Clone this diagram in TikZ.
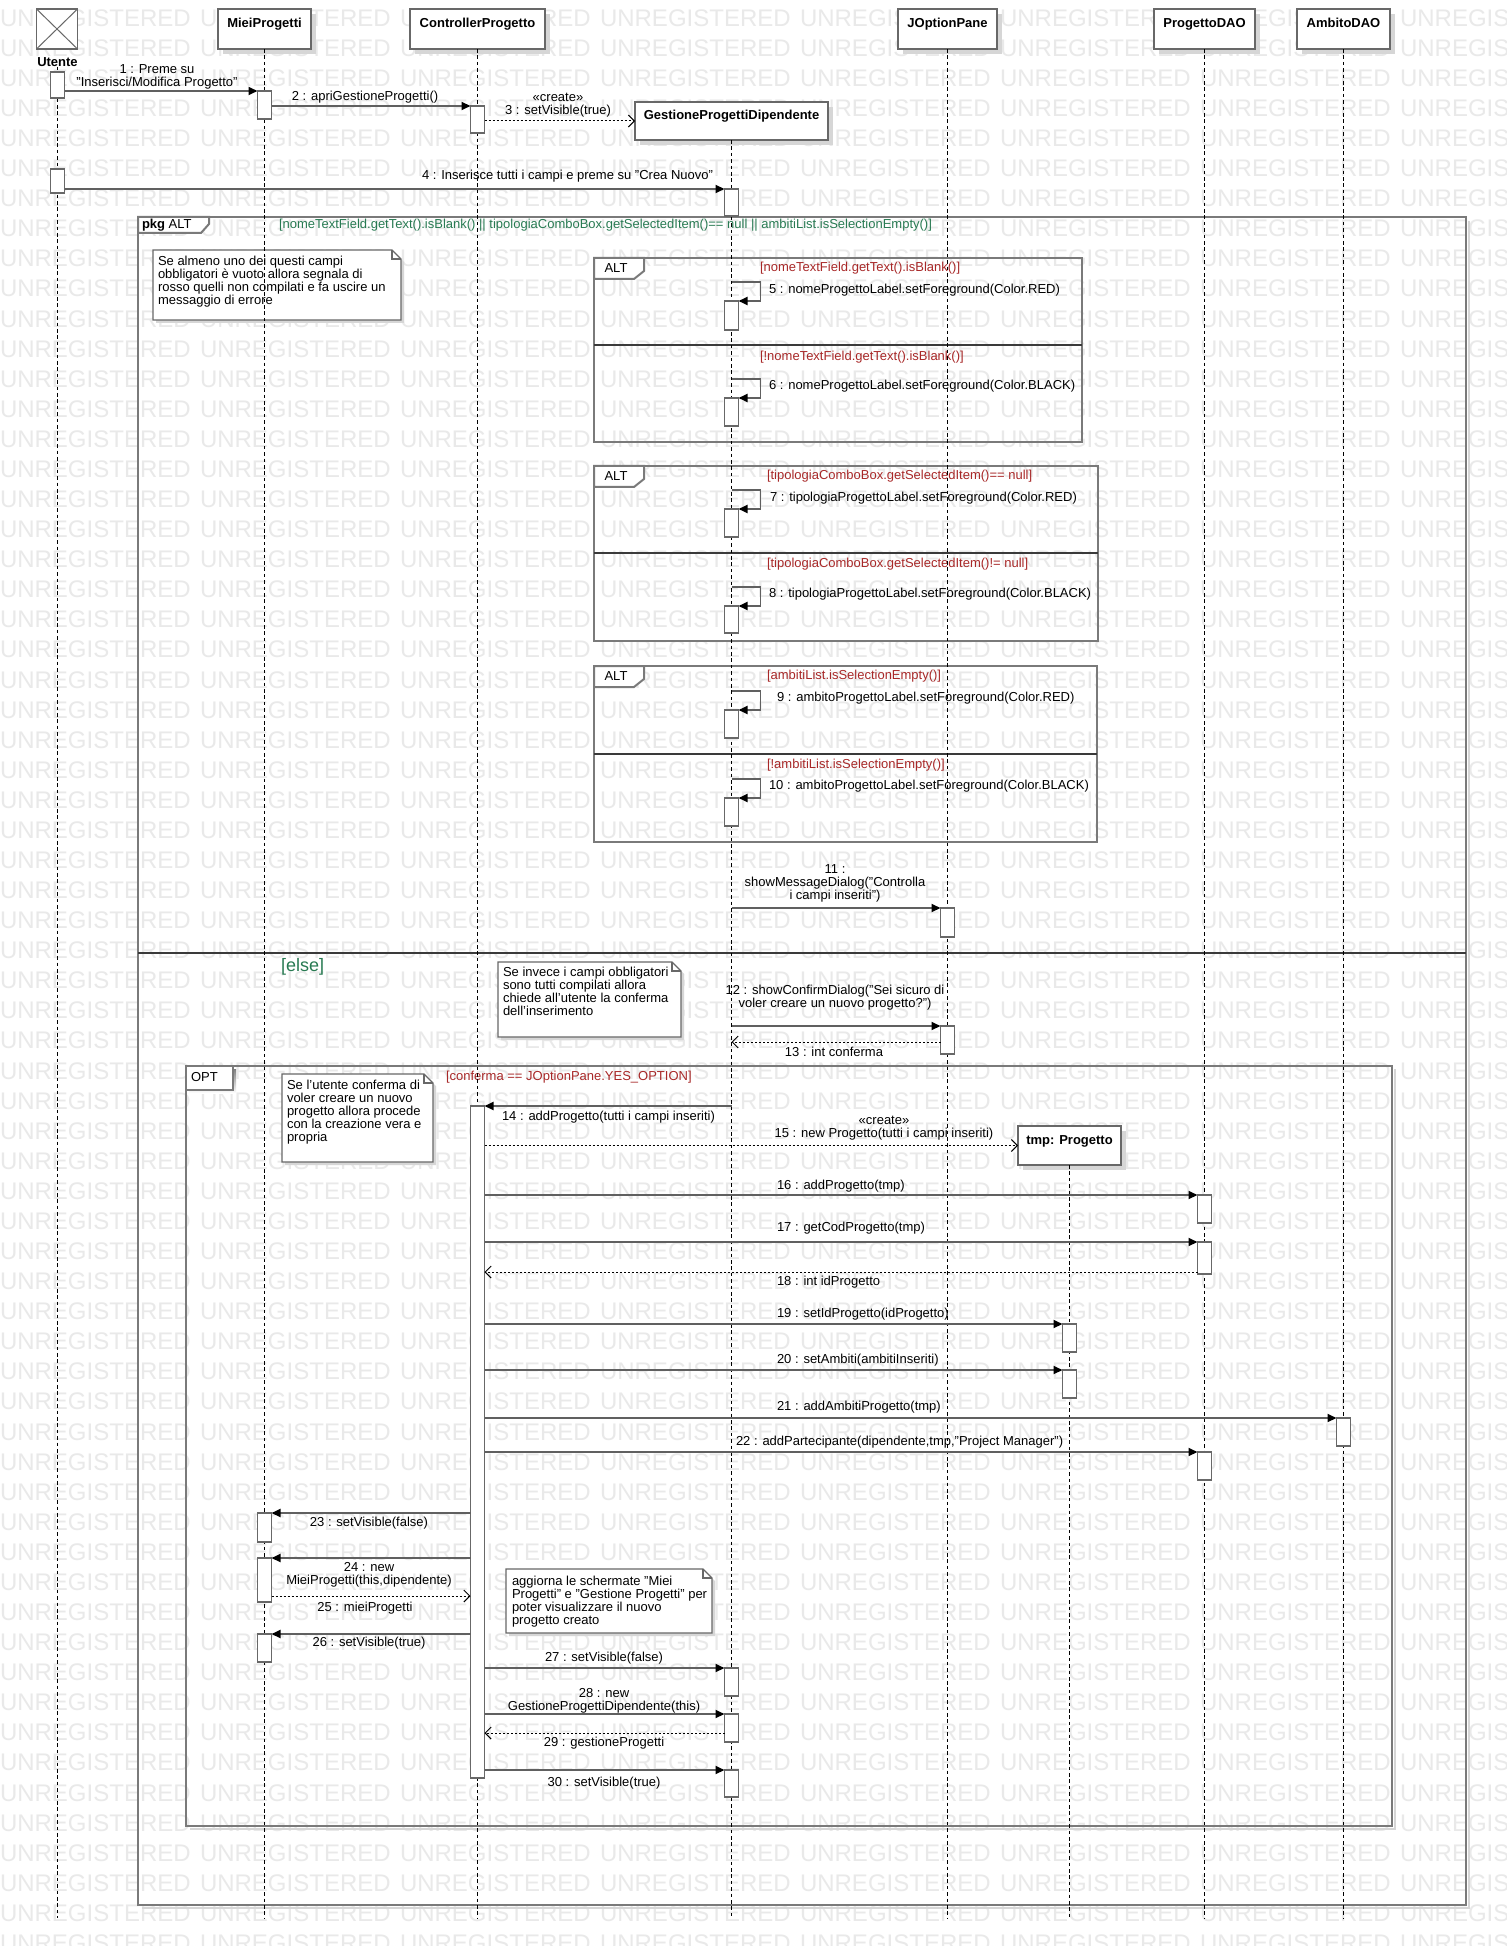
\documentclass[tikz,border=0pt]{standalone}
\usepackage{fontspec}
\setmainfont{Liberation Sans}
\usetikzlibrary{arrows.meta,shadows}

\definecolor{wmgray}{RGB}{233,233,233}
\definecolor{framegray}{RGB}{122,122,122}
\definecolor{sepdark}{RGB}{58,58,58}
\definecolor{boxgray}{RGB}{104,104,104}
\definecolor{msggray}{RGB}{96,96,96}
\definecolor{guardgreen}{RGB}{40,122,82}
\definecolor{guardred}{RGB}{168,40,40}
\definecolor{shade}{RGB}{214,214,214}

\newcommand{\sqfont}{\fontsize{6.5pt}{6.5pt}\selectfont}
\newcommand{\wmfont}{\fontsize{12pt}{12pt}\selectfont}
\newcommand{\elsefont}{\fontsize{9pt}{9pt}\selectfont}

% note with folded corner: x1, y1, x2, y2
\newcommand{\notebg}[4]{%
  \fill[noteshadow] ({#1+3},{#2+3}) -- ({#3-6},{#2+3}) -- ({#3+3},{#2+12}) -- ({#3+3},{#4+3}) -- ({#1+3},{#4+3}) -- cycle;
  \filldraw[notebox] (#1,#2) -- ({#3-9},#2) -- (#3,{#2+9}) -- (#3,#4) -- (#1,#4) -- cycle;
  \draw[notebox, fill=none] ({#3-9},#2) -- ({#3-9},{#2+9}) -- (#3,{#2+9});}

\begin{document}
\begin{tikzpicture}[x=0.5pt, y=-0.5pt,
  every node/.style={inner sep=0pt, outer sep=0pt},
  txt/.style={font=\sqfont, text=black},
  wm/.style={font=\wmfont, text=wmgray, anchor=west},
  headbox/.style={draw=boxgray, fill=white, line width=0.75pt, font=\sqfont\bfseries,
    text height=9.3pt, text depth=10.7pt, anchor=north,
    drop shadow={shadow xshift=2.5pt, shadow yshift=-2.5pt, fill=shade, opacity=1}},
  actbox/.style={draw=boxgray, fill=white, line width=0.75pt, minimum width=7pt, anchor=north},
  lifeline/.style={draw=black, line width=0.45pt, dash pattern=on 1.8pt off 1.4pt},
  msg/.style={draw=msggray, line width=0.9pt, -{Triangle[length=4.5pt, width=4pt, color=black]}},
  ret/.style={draw=black, line width=0.5pt, dash pattern=on 1pt off 1pt,
    -{Straight Barb[length=3pt, width=6pt, color=black]}},
  frame/.style={draw=framegray, line width=1pt},
  framesh/.style={draw=shade, line width=1.2pt},
  sepline/.style={draw=sepdark, line width=1.3pt},
  notebox/.style={draw=boxgray, fill=white, line width=0.6pt},
  noteshadow/.style={fill=shade},
  notetext/.style={font=\sqfont, text=black, anchor=north west, align=left},
  guardg/.style={font=\sqfont, text=guardgreen, anchor=west},
  guardr/.style={font=\sqfont, text=guardred, anchor=west},
]
\useasboundingbox (0,0) rectangle (1506,1946);
\fill[white] (0,0) rectangle (1506,1946);

% tiled background lettering
\begin{scope}
  \clip (0,0) rectangle (1506,1946);
  \foreach \r in {0,...,64}{
    \foreach \c in {0,...,7}{
      \node[wm] (wm-\r-\c) at (\c*200, 18+\r*30.08) {UNREGISTERED};
    }
  }
\end{scope}

% ---------- combined fragments ----------
\draw[framesh] (1469,221) -- (1469,1908) -- (142,1908);
\draw[frame] (138,217) rectangle (1466,1905);
\filldraw[frame, fill=white] (138,217) -- (209,217) -- (209,224) -- (201,233) -- (138,233) -- cycle;
\node[txt, anchor=west] (tPkg) at (142,225) {\textbf{pkg} ALT};
\node[guardg] (gAll) at (279,225) {[nomeTextField.getText().isBlank() || tipologiaComboBox.getSelectedItem()== null || ambitiList.isSelectionEmpty()]};
\draw[sepline] (138,953) -- (1466,953);
\node[guardg, font=\elsefont] (gElse) at (281,967) {[else]};

% alt on the project name
\draw[frame] (594,258) rectangle (1082,442);
\draw[sepline] (594,345) -- (1082,345);
\filldraw[frame, fill=white] (594,258) -- (644,258) -- (644,271) -- (634,279) -- (594,279) -- cycle;
\node[txt] (tAltA) at (616,268) {ALT};
\node[guardr] (g5) at (760,268) {[nomeTextField.getText().isBlank()]};
\node[guardr] (g6) at (760,357) {[!nomeTextField.getText().isBlank()]};

% alt on the project type
\draw[frame] (594,466) rectangle (1098,641);
\draw[sepline] (594,553) -- (1098,553);
\filldraw[frame, fill=white] (594,466) -- (644,466) -- (644,479) -- (634,487) -- (594,487) -- cycle;
\node[txt] (tAltB) at (616,476) {ALT};
\node[guardr] (g7) at (767,476) {[tipologiaComboBox.getSelectedItem()== null]};
\node[guardr] (g8) at (767,564) {[tipologiaComboBox.getSelectedItem()!= null]};

% alt on the project scopes
\draw[frame] (594,666) rectangle (1097,842);
\draw[sepline] (594,754) -- (1097,754);
\filldraw[frame, fill=white] (594,666) -- (644,666) -- (644,679) -- (634,687) -- (594,687) -- cycle;
\node[txt] (tAltC) at (616,676) {ALT};
\node[guardr] (g9) at (767,676) {[ambitiList.isSelectionEmpty()]};
\node[guardr] (g10) at (767,765) {[!ambitiList.isSelectionEmpty()]};

% opt on confirmation
\draw[framesh] (1395,1069) -- (1395,1829) -- (190,1829);
\draw[frame] (186,1066) rectangle (1392,1826);
\fill[shade] (189,1069) rectangle (236,1093);
\filldraw[frame, fill=white] (186,1066) rectangle (233,1090);
\node[txt, anchor=west] (tOpt) at (191,1077) {OPT};
\node[guardr] (gOpt) at (446,1077) {[conferma == JOptionPane.YES\_OPTION]};

% ---------- notes ----------
\notebg{153}{250}{401}{320}
\node[notetext] (n1) at (158,256) {Se almeno uno dei questi campi\\obbligatori è vuoto allora segnala di\\rosso quelli non compilati e fa uscire un\\messaggio di errore};
\notebg{498}{962}{681}{1037}
\node[notetext] (n2) at (503,967) {Se invece i campi obbligatori\\sono tutti compilati allora\\chiede all'utente la conferma\\dell'inserimento};
\notebg{282}{1074}{433}{1162}
\node[notetext] (n3) at (287,1080) {Se l'utente conferma di\\voler creare un nuovo\\progetto allora procede\\con la creazione vera e\\propria};
\notebg{506}{1569}{712}{1633}
\node[notetext] (n4) at (512,1576) {aggiorna le schermate "Miei\\Progetti" e "Gestione Progetti" per\\poter visualizzare il nuovo\\progetto creato};

% ---------- participants ----------
\coordinate (llend) at (0,1918);
\node[draw=boxgray, line width=0.75pt, fill=white, minimum width=20.5pt, minimum height=20pt, anchor=north,
  path picture={\draw[boxgray, line width=0.5pt]
    (path picture bounding box.north west) -- (path picture bounding box.south east)
    (path picture bounding box.north east) -- (path picture bounding box.south west);}]
  (hUT) at (57,9) {};
\node[txt, font=\sqfont\bfseries] (tUT) at (57.5,62) {Utente};
\node[headbox, minimum width=46.5pt] (hMP) at (264.5,9) {MieiProgetti};
\node[headbox, minimum width=67.5pt] (hCP) at (477.5,9) {ControllerProgetto};
\node[headbox, minimum width=49.5pt] (hJO) at (947.5,9) {JOptionPane};
\node[headbox, minimum width=50.5pt] (hPD) at (1204.5,9) {ProgettoDAO};
\node[headbox, minimum width=46.5pt] (hAD) at (1343.5,9) {AmbitoDAO};
\node[headbox, minimum width=96.5pt, text height=8.75pt, text depth=10.25pt] (hGP) at (731.5,102) {GestioneProgettiDipendente};
\node[headbox, minimum width=51.5pt, text height=9.3pt, text depth=10.2pt] (hTP) at (1069.5,1126) {tmp: Progetto};

% lifelines
\draw[lifeline] (tUT.south) -- (tUT.south |- llend);
\draw[lifeline] (hMP.south) -- (hMP.south |- llend);
\draw[lifeline] (hCP.south) -- (hCP.south |- llend);
\draw[lifeline] (hGP.south) -- (hGP.south |- llend);
\draw[lifeline] (hJO.south) -- (hJO.south |- llend);
\draw[lifeline] (hTP.south) -- (hTP.south |- llend);
\draw[lifeline] (hPD.south) -- (hPD.south |- llend);
\draw[lifeline] (hAD.south) -- (hAD.south |- llend);

% ---------- activations ----------
\node[actbox, minimum height=13pt] (ut1) at (57.5,72) {};
\node[actbox, minimum height=12pt] (ut2) at (57.5,169) {};
\node[actbox, minimum height=14pt] (mp1) at (264.5,91) {};
\node[actbox, minimum height=13.5pt] (cp1) at (477.5,106) {};
\node[actbox, minimum height=13.5pt] (gp1) at (731.5,189) {};
\node[actbox, minimum height=14.5pt] (gp5) at (731.5,301) {};
\node[actbox, minimum height=14pt] (gp6) at (731.5,398) {};
\node[actbox, minimum height=14pt] (gp7) at (731.5,509) {};
\node[actbox, minimum height=13.5pt] (gp8) at (731.5,606) {};
\node[actbox, minimum height=14pt] (gp9) at (731.5,710) {};
\node[actbox, minimum height=14pt] (gp10) at (731.5,798) {};
\node[actbox, minimum height=14.5pt] (jo11) at (947.5,908) {};
\node[actbox, minimum height=14pt] (jo12) at (947.5,1026) {};
\node[actbox, minimum height=336pt] (cp2) at (477.5,1106) {};
\node[actbox, minimum height=14pt] (pd16) at (1204.5,1195) {};
\node[actbox, minimum height=16pt] (pd17) at (1204.5,1242) {};
\node[actbox, minimum height=14pt] (tp19) at (1069.5,1324) {};
\node[actbox, minimum height=14pt] (tp20) at (1069.5,1370) {};
\node[actbox, minimum height=14pt] (ad21) at (1343.5,1418) {};
\node[actbox, minimum height=14pt] (pd22) at (1204.5,1452) {};
\node[actbox, minimum height=14.5pt] (mp23) at (264.5,1513) {};
\node[actbox, minimum height=22pt] (mp24) at (264.5,1558) {};
\node[actbox, minimum height=14pt] (mp26) at (264.5,1634) {};
\node[actbox, minimum height=14pt] (gp27) at (731.5,1668) {};
\node[actbox, minimum height=14pt] (gp28) at (731.5,1714) {};
\node[actbox, minimum height=13.5pt] (gp30) at (731.5,1770) {};

% ---------- messages ----------
\draw[msg] (ut1.east |- mp1.north) -- (mp1.north west);
\draw[msg] (mp1.east |- cp1.north) -- (cp1.north west);
\draw[ret] (cp1.east |- hGP.west) -- (hGP.west);
\draw[msg] (ut2.east |- gp1.north) -- (gp1.north west);

\foreach \a in {gp5,gp6,gp7,gp8,gp9,gp10}{
  \draw[msg] ([yshift=9.5pt]\a.north) -- ([xshift=11pt,yshift=9.5pt]\a.north east)
    -- ([xshift=11pt]\a.north east) -- (\a.north east);
}

\draw[msg] (hGP.south |- jo11.north) -- (jo11.north west);
\draw[msg] (hGP.south |- jo12.north) -- (jo12.north west);
\coordinate (r13) at ([yshift=-1pt]jo12.west);
\draw[ret] (r13) -- (r13 -| hGP.south);
\draw[msg] (hGP.south |- cp2.north) -- (cp2.north east);
\draw[ret] (cp2.east |- hTP.west) -- (hTP.west);
\draw[msg] (cp2.east |- pd16.north) -- (pd16.north west);
\draw[msg] (cp2.east |- pd17.north) -- (pd17.north west);
\coordinate (r18) at ([yshift=1pt]pd17.south west);
\draw[ret] (r18) -- (r18 -| cp2.east);
\draw[msg] (cp2.east |- tp19.north) -- (tp19.north west);
\draw[msg] (cp2.east |- tp20.north) -- (tp20.north west);
\draw[msg] (cp2.east |- ad21.north) -- (ad21.north west);
\draw[msg] (cp2.east |- pd22.north) -- (pd22.north west);
\draw[msg] (cp2.west |- mp23.north) -- (mp23.north east);
\draw[msg] (cp2.west |- mp24.north) -- (mp24.north east);
\coordinate (r25) at ([yshift=3pt]mp24.south east);
\draw[ret] (r25) -- (r25 -| cp2.west);
\draw[msg] (cp2.west |- mp26.north) -- (mp26.north east);
\draw[msg] (cp2.east |- gp27.north) -- (gp27.north west);
\draw[msg] (cp2.east |- gp28.north) -- (gp28.north west);
\coordinate (r29) at ([yshift=-2.5pt]gp28.west);
\draw[ret] (r29) -- (r29 -| cp2.east);
\draw[msg] (cp2.east |- gp30.north) -- (gp30.north west);

% ---------- message labels ----------
\node[txt, anchor=north, align=center] (l1) at (157,65) {1 : Preme su\\"Inserisci/Modifica Progetto"};
\node[txt] (l2) at (365,97) {2 : apriGestioneProgetti()};
\node[txt, anchor=north, align=center] (l3) at (558,93) {«create»\\3 : setVisible(true)};
\node[txt, anchor=east] (l4) at (713,176) {4 : Inserisce tutti i campi e preme su "Crea Nuovo"};
\node[txt, anchor=west] (l5) at (769,290) {5 : nomeProgettoLabel.setForeground(Color.RED)};
\node[txt, anchor=west] (l6) at (769,386) {6 : nomeProgettoLabel.setForeground(Color.BLACK)};
\node[txt, anchor=west] (l7) at (770,498) {7 : tipologiaProgettoLabel.setForeground(Color.RED)};
\node[txt, anchor=west] (l8) at (769,594) {8 : tipologiaProgettoLabel.setForeground(Color.BLACK)};
\node[txt, anchor=west] (l9) at (777,698) {9 : ambitoProgettoLabel.setForeground(Color.RED)};
\node[txt, anchor=west] (l10) at (769,786) {10 : ambitoProgettoLabel.setForeground(Color.BLACK)};
\node[txt, anchor=north, align=center] (l11) at (835,865) {11 :\\showMessageDialog("Controlla\\i campi inseriti")};
\node[txt, anchor=north, align=center] (l12) at (835,985) {12 : showConfirmDialog("Sei sicuro di\\ voler creare un nuovo progetto?")};
\node[txt] (l13) at (834,1052) {13 : int conferma};
\node[txt, anchor=west] (l14) at (502,1117) {14 : addProgetto(tutti i campi inseriti)};
\node[txt, anchor=north, align=center] (l15) at (884,1116) {«create»\\15 : new Progetto(tutti i campi inseriti)};
\node[txt, anchor=west] (l16) at (777,1186) {16 : addProgetto(tmp)};
\node[txt, anchor=west] (l17) at (777,1228) {17 : getCodProgetto(tmp)};
\node[txt, anchor=west] (l18) at (777,1282) {18 : int idProgetto};
\node[txt, anchor=west] (l19) at (777,1314) {19 : setIdProgetto(idProgetto)};
\node[txt, anchor=west] (l20) at (777,1360) {20 : setAmbiti(ambitiInseriti)};
\node[txt, anchor=west] (l21) at (777,1407) {21 : addAmbitiProgetto(tmp)};
\node[txt, anchor=west] (l22) at (736,1442) {22 : addPartecipante(dipendente,tmp,"Project Manager")};
\node[txt] (l23) at (369,1523) {23 : setVisible(false)};
\node[txt, anchor=north, align=center] (l24) at (369,1562) {24 : new\\MieiProgetti(this,dipendente)};
\node[txt] (l25) at (365,1608) {25 : mieiProgetti};
\node[txt] (l26) at (369,1643) {26 : setVisible(true)};
\node[txt] (l27) at (604,1658) {27 : setVisible(false)};
\node[txt, anchor=north, align=center] (l28) at (604,1688) {28 : new\\GestioneProgettiDipendente(this)};
\node[txt] (l29) at (604,1743) {29 : gestioneProgetti};
\node[txt] (l30) at (604,1783) {30 : setVisible(true)};
\end{tikzpicture}
\end{document}
